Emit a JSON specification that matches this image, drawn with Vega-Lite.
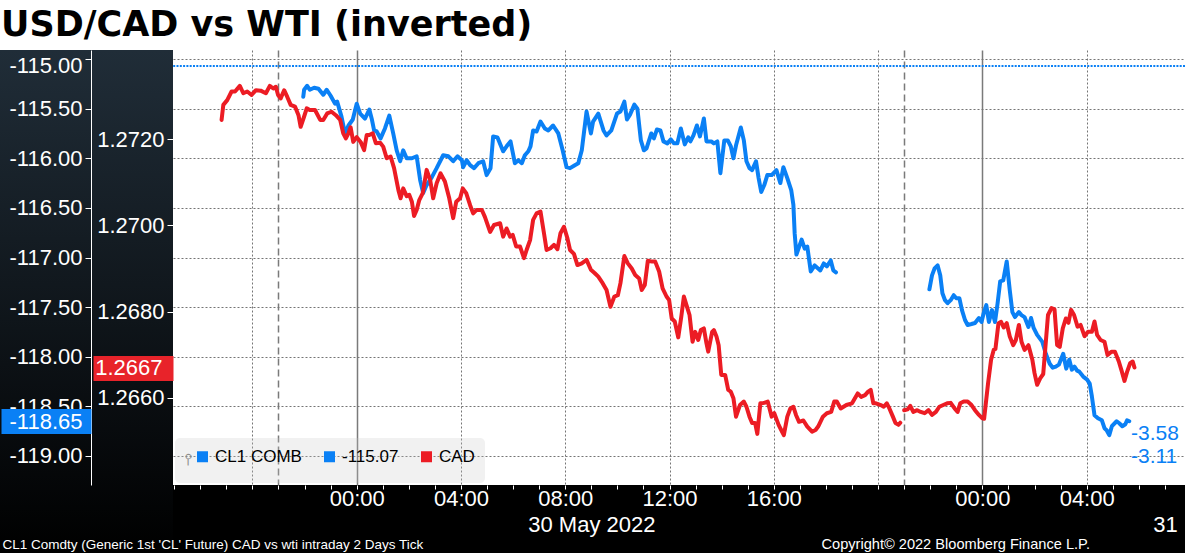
{
"$schema": "https://vega.github.io/schema/vega-lite/v6.json",
"width": 1012, "height": 435,
"autosize": "none",
"padding": {"left": 173, "top": 50, "right": 0, "bottom": 68},
"background": "white",
"config": {"view": {"stroke": null, "fill": "white"}},
"title": {"text": "USD/CAD vs WTI (inverted)", "anchor": "start", "frame": "group", "dx": -172, "dy": 34, "offset": 13, "baseline": "alphabetic", "font": "DejaVu Sans", "fontWeight": "bold", "fontSize": 35, "color": "black"},
"datasets": {
"wti1": [
{"t":"2022-05-29 21:57","v":-115.38},{"t":"2022-05-29 21:59","v":-115.31},{"t":"2022-05-29 22:06","v":-115.27},{"t":"2022-05-29 22:12","v":-115.31},{"t":"2022-05-29 22:22","v":-115.29},{"t":"2022-05-29 22:32","v":-115.30},{"t":"2022-05-29 22:43","v":-115.36},{"t":"2022-05-29 22:51","v":-115.31},{"t":"2022-05-29 23:00","v":-115.37},{"t":"2022-05-29 23:10","v":-115.45},{"t":"2022-05-29 23:15","v":-115.43},{"t":"2022-05-29 23:25","v":-115.58},{"t":"2022-05-29 23:33","v":-115.75},{"t":"2022-05-29 23:41","v":-115.67},{"t":"2022-05-29 23:51","v":-115.61},
{"t":"2022-05-30 00:00","v":-115.45},{"t":"2022-05-30 00:08","v":-115.55},{"t":"2022-05-30 00:19","v":-115.60},{"t":"2022-05-30 00:29","v":-115.51},{"t":"2022-05-30 00:35","v":-115.61},{"t":"2022-05-30 00:40","v":-115.72},{"t":"2022-05-30 00:46","v":-115.73},{"t":"2022-05-30 00:55","v":-115.80},{"t":"2022-05-30 01:05","v":-115.70},{"t":"2022-05-30 01:15","v":-115.57},{"t":"2022-05-30 01:24","v":-115.75},{"t":"2022-05-30 01:32","v":-115.92},{"t":"2022-05-30 01:40","v":-116.03},{"t":"2022-05-30 01:47","v":-115.92},{"t":"2022-05-30 01:55","v":-116.00},{"t":"2022-05-30 02:07","v":-116.00},{"t":"2022-05-30 02:18","v":-115.98},{"t":"2022-05-30 02:26","v":-116.22},{"t":"2022-05-30 02:33","v":-116.35},{"t":"2022-05-30 02:41","v":-116.27},{"t":"2022-05-30 02:53","v":-116.19},{"t":"2022-05-30 03:04","v":-116.10},{"t":"2022-05-30 03:19","v":-115.97},{"t":"2022-05-30 03:31","v":-115.98},{"t":"2022-05-30 03:42","v":-116.03},{"t":"2022-05-30 03:52","v":-115.98},{"t":"2022-05-30 04:02","v":-116.02},{"t":"2022-05-30 04:05","v":-116.09},{"t":"2022-05-30 04:13","v":-116.02},{"t":"2022-05-30 04:21","v":-116.07},{"t":"2022-05-30 04:30","v":-116.10},{"t":"2022-05-30 04:40","v":-116.05},{"t":"2022-05-30 04:51","v":-116.03},{"t":"2022-05-30 04:59","v":-116.17},{"t":"2022-05-30 05:08","v":-116.10},{"t":"2022-05-30 05:14","v":-115.78},{"t":"2022-05-30 05:24","v":-115.79},{"t":"2022-05-30 05:37","v":-115.93},{"t":"2022-05-30 05:45","v":-115.88},{"t":"2022-05-30 05:54","v":-115.83},{"t":"2022-05-30 06:04","v":-116.05},{"t":"2022-05-30 06:12","v":-116.02},{"t":"2022-05-30 06:20","v":-116.05},{"t":"2022-05-30 06:27","v":-115.97},{"t":"2022-05-30 06:35","v":-115.93},{"t":"2022-05-30 06:40","v":-115.88},{"t":"2022-05-30 06:46","v":-115.72},{"t":"2022-05-30 06:54","v":-115.73},{"t":"2022-05-30 07:03","v":-115.63},{"t":"2022-05-30 07:13","v":-115.70},{"t":"2022-05-30 07:21","v":-115.72},{"t":"2022-05-30 07:32","v":-115.67},{"t":"2022-05-30 07:44","v":-115.75},{"t":"2022-05-30 07:54","v":-115.92},{"t":"2022-05-30 08:03","v":-116.09},{"t":"2022-05-30 08:11","v":-116.10},{"t":"2022-05-30 08:22","v":-116.07},{"t":"2022-05-30 08:30","v":-116.05},{"t":"2022-05-30 08:38","v":-115.92},{"t":"2022-05-30 08:49","v":-115.53},{"t":"2022-05-30 08:59","v":-115.75},{"t":"2022-05-30 09:04","v":-115.63},{"t":"2022-05-30 09:16","v":-115.55},{"t":"2022-05-30 09:28","v":-115.72},{"t":"2022-05-30 09:35","v":-115.77},{"t":"2022-05-30 09:46","v":-115.72},{"t":"2022-05-30 09:59","v":-115.55},{"t":"2022-05-30 10:07","v":-115.53},{"t":"2022-05-30 10:16","v":-115.43},{"t":"2022-05-30 10:22","v":-115.61},{"t":"2022-05-30 10:29","v":-115.56},{"t":"2022-05-30 10:39","v":-115.46},{"t":"2022-05-30 10:46","v":-115.50},{"t":"2022-05-30 10:54","v":-115.82},{"t":"2022-05-30 11:01","v":-115.92},{"t":"2022-05-30 11:07","v":-115.90},{"t":"2022-05-30 11:18","v":-115.75},{"t":"2022-05-30 11:24","v":-115.80},{"t":"2022-05-30 11:31","v":-115.71},{"t":"2022-05-30 11:39","v":-115.72},{"t":"2022-05-30 11:46","v":-115.83},{"t":"2022-05-30 11:55","v":-115.85},{"t":"2022-05-30 12:03","v":-115.81},{"t":"2022-05-30 12:10","v":-115.85},{"t":"2022-05-30 12:18","v":-115.85},{"t":"2022-05-30 12:26","v":-115.70},{"t":"2022-05-30 12:35","v":-115.86},{"t":"2022-05-30 12:43","v":-115.79},{"t":"2022-05-30 12:48","v":-115.83},{"t":"2022-05-30 12:55","v":-115.77},{"t":"2022-05-30 13:03","v":-115.67},{"t":"2022-05-30 13:10","v":-115.78},{"t":"2022-05-30 13:19","v":-115.60},{"t":"2022-05-30 13:25","v":-115.83},{"t":"2022-05-30 13:36","v":-115.83},{"t":"2022-05-30 13:42","v":-115.85},{"t":"2022-05-30 13:50","v":-115.83},{"t":"2022-05-30 13:57","v":-116.15},{"t":"2022-05-30 14:06","v":-115.82},{"t":"2022-05-30 14:14","v":-115.82},{"t":"2022-05-30 14:21","v":-115.88},{"t":"2022-05-30 14:27","v":-116.00},{"t":"2022-05-30 14:33","v":-115.87},{"t":"2022-05-30 14:44","v":-115.69},{"t":"2022-05-30 14:51","v":-115.82},{"t":"2022-05-30 14:57","v":-116.03},{"t":"2022-05-30 15:04","v":-116.10},{"t":"2022-05-30 15:10","v":-116.12},{"t":"2022-05-30 15:19","v":-116.03},{"t":"2022-05-30 15:25","v":-116.20},{"t":"2022-05-30 15:31","v":-116.34},{"t":"2022-05-30 15:38","v":-116.27},{"t":"2022-05-30 15:45","v":-116.17},{"t":"2022-05-30 15:55","v":-116.17},{"t":"2022-05-30 16:06","v":-116.12},{"t":"2022-05-30 16:15","v":-116.25},{"t":"2022-05-30 16:22","v":-116.09},{"t":"2022-05-30 16:31","v":-116.20},{"t":"2022-05-30 16:40","v":-116.32},{"t":"2022-05-30 16:45","v":-116.47},{"t":"2022-05-30 16:48","v":-116.76},{"t":"2022-05-30 16:52","v":-116.97},{"t":"2022-05-30 17:04","v":-116.82},{"t":"2022-05-30 17:11","v":-116.91},{"t":"2022-05-30 17:17","v":-116.89},{"t":"2022-05-30 17:25","v":-117.14},{"t":"2022-05-30 17:34","v":-117.08},{"t":"2022-05-30 17:47","v":-117.13},{"t":"2022-05-30 17:55","v":-117.06},{"t":"2022-05-30 18:02","v":-117.09},{"t":"2022-05-30 18:11","v":-117.03},{"t":"2022-05-30 18:17","v":-117.13},{"t":"2022-05-30 18:23","v":-117.15}
],
"wti2": [
{"t":"2022-05-30 21:58","v":-117.32},{"t":"2022-05-30 22:04","v":-117.18},{"t":"2022-05-30 22:10","v":-117.11},{"t":"2022-05-30 22:17","v":-117.08},{"t":"2022-05-30 22:23","v":-117.18},{"t":"2022-05-30 22:28","v":-117.36},{"t":"2022-05-30 22:34","v":-117.43},{"t":"2022-05-30 22:40","v":-117.46},{"t":"2022-05-30 22:47","v":-117.43},{"t":"2022-05-30 22:54","v":-117.38},{"t":"2022-05-30 23:00","v":-117.41},{"t":"2022-05-30 23:07","v":-117.41},{"t":"2022-05-30 23:13","v":-117.53},{"t":"2022-05-30 23:20","v":-117.63},{"t":"2022-05-30 23:26","v":-117.68},{"t":"2022-05-30 23:35","v":-117.67},{"t":"2022-05-30 23:43","v":-117.66},{"t":"2022-05-30 23:52","v":-117.61},{"t":"2022-05-30 23:58","v":-117.65},
{"t":"2022-05-31 00:03","v":-117.56},{"t":"2022-05-31 00:09","v":-117.48},{"t":"2022-05-31 00:15","v":-117.65},{"t":"2022-05-31 00:22","v":-117.53},{"t":"2022-05-31 00:29","v":-117.65},{"t":"2022-05-31 00:35","v":-117.46},{"t":"2022-05-31 00:41","v":-117.24},{"t":"2022-05-31 00:48","v":-117.23},{"t":"2022-05-31 00:56","v":-117.04},{"t":"2022-05-31 01:03","v":-117.33},{"t":"2022-05-31 01:09","v":-117.55},{"t":"2022-05-31 01:15","v":-117.60},{"t":"2022-05-31 01:24","v":-117.55},{"t":"2022-05-31 01:30","v":-117.58},{"t":"2022-05-31 01:37","v":-117.60},{"t":"2022-05-31 01:46","v":-117.70},{"t":"2022-05-31 01:52","v":-117.61},{"t":"2022-05-31 01:58","v":-117.71},{"t":"2022-05-31 02:06","v":-117.78},{"t":"2022-05-31 02:18","v":-117.85},{"t":"2022-05-31 02:26","v":-117.97},{"t":"2022-05-31 02:35","v":-118.07},{"t":"2022-05-31 02:42","v":-118.11},{"t":"2022-05-31 02:49","v":-118.10},{"t":"2022-05-31 02:56","v":-118.08},{"t":"2022-05-31 03:06","v":-117.97},{"t":"2022-05-31 03:13","v":-118.12},{"t":"2022-05-31 03:20","v":-118.03},{"t":"2022-05-31 03:26","v":-118.13},{"t":"2022-05-31 03:32","v":-118.10},{"t":"2022-05-31 03:38","v":-118.14},{"t":"2022-05-31 03:43","v":-118.15},{"t":"2022-05-31 03:52","v":-118.20},{"t":"2022-05-31 04:01","v":-118.23},{"t":"2022-05-31 04:07","v":-118.27},{"t":"2022-05-31 04:12","v":-118.40},{"t":"2022-05-31 04:18","v":-118.59},{"t":"2022-05-31 04:26","v":-118.62},{"t":"2022-05-31 04:35","v":-118.64},{"t":"2022-05-31 04:41","v":-118.72},{"t":"2022-05-31 04:46","v":-118.74},{"t":"2022-05-31 04:52","v":-118.79},{"t":"2022-05-31 04:58","v":-118.70},{"t":"2022-05-31 05:09","v":-118.65},{"t":"2022-05-31 05:15","v":-118.67},{"t":"2022-05-31 05:22","v":-118.70},{"t":"2022-05-31 05:29","v":-118.68},{"t":"2022-05-31 05:33","v":-118.64},{"t":"2022-05-31 05:38","v":-118.65}
],
"cad1": [
{"t":"2022-05-29 18:49","v":1.27245},{"t":"2022-05-29 18:53","v":1.27280},{"t":"2022-05-29 19:02","v":1.27291},{"t":"2022-05-29 19:12","v":1.27311},{"t":"2022-05-29 19:20","v":1.27311},{"t":"2022-05-29 19:31","v":1.27324},{"t":"2022-05-29 19:39","v":1.27307},{"t":"2022-05-29 19:48","v":1.27311},{"t":"2022-05-29 19:58","v":1.27303},{"t":"2022-05-29 20:08","v":1.27314},{"t":"2022-05-29 20:19","v":1.27313},{"t":"2022-05-29 20:31","v":1.27307},{"t":"2022-05-29 20:40","v":1.27324},{"t":"2022-05-29 20:48","v":1.27318},{"t":"2022-05-29 20:54","v":1.27322},{"t":"2022-05-29 20:59","v":1.27303},{"t":"2022-05-29 21:05","v":1.27295},{"t":"2022-05-29 21:13","v":1.27314},{"t":"2022-05-29 21:20","v":1.27299},{"t":"2022-05-29 21:28","v":1.27280},{"t":"2022-05-29 21:38","v":1.27276},{"t":"2022-05-29 21:46","v":1.27256},{"t":"2022-05-29 21:51","v":1.27229},{"t":"2022-05-29 21:59","v":1.27253},{"t":"2022-05-29 22:05","v":1.27272},{"t":"2022-05-29 22:12","v":1.27268},{"t":"2022-05-29 22:24","v":1.27268},{"t":"2022-05-29 22:36","v":1.27245},{"t":"2022-05-29 22:43","v":1.27245},{"t":"2022-05-29 22:52","v":1.27260},{"t":"2022-05-29 23:02","v":1.27264},{"t":"2022-05-29 23:12","v":1.27256},{"t":"2022-05-29 23:22","v":1.27245},{"t":"2022-05-29 23:29","v":1.27214},{"t":"2022-05-29 23:35","v":1.27202},{"t":"2022-05-29 23:41","v":1.27214},{"t":"2022-05-29 23:46","v":1.27228},{"t":"2022-05-29 23:52","v":1.27194},
{"t":"2022-05-30 00:00","v":1.27205},{"t":"2022-05-30 00:09","v":1.27194},{"t":"2022-05-30 00:17","v":1.27175},{"t":"2022-05-30 00:23","v":1.27210},{"t":"2022-05-30 00:29","v":1.27210},{"t":"2022-05-30 00:37","v":1.27214},{"t":"2022-05-30 00:44","v":1.27191},{"t":"2022-05-30 00:54","v":1.27192},{"t":"2022-05-30 01:01","v":1.27183},{"t":"2022-05-30 01:09","v":1.27156},{"t":"2022-05-30 01:18","v":1.27160},{"t":"2022-05-30 01:26","v":1.27133},{"t":"2022-05-30 01:36","v":1.27082},{"t":"2022-05-30 01:41","v":1.27063},{"t":"2022-05-30 01:47","v":1.27086},{"t":"2022-05-30 01:55","v":1.27068},{"t":"2022-05-30 02:01","v":1.27071},{"t":"2022-05-30 02:07","v":1.27055},{"t":"2022-05-30 02:12","v":1.27022},{"t":"2022-05-30 02:18","v":1.27036},{"t":"2022-05-30 02:24","v":1.27059},{"t":"2022-05-30 02:32","v":1.27075},{"t":"2022-05-30 02:41","v":1.27129},{"t":"2022-05-30 02:49","v":1.27106},{"t":"2022-05-30 02:56","v":1.27063},{"t":"2022-05-30 03:04","v":1.27098},{"t":"2022-05-30 03:13","v":1.27121},{"t":"2022-05-30 03:23","v":1.27102},{"t":"2022-05-30 03:33","v":1.27063},{"t":"2022-05-30 03:42","v":1.27017},{"t":"2022-05-30 03:49","v":1.27055},{"t":"2022-05-30 03:58","v":1.27063},{"t":"2022-05-30 04:04","v":1.27086},{"t":"2022-05-30 04:12","v":1.27075},{"t":"2022-05-30 04:21","v":1.27047},{"t":"2022-05-30 04:28","v":1.27028},{"t":"2022-05-30 04:36","v":1.27036},{"t":"2022-05-30 04:48","v":1.27036},{"t":"2022-05-30 04:55","v":1.27020},{"t":"2022-05-30 05:07","v":1.26985},{"t":"2022-05-30 05:16","v":1.27001},{"t":"2022-05-30 05:30","v":1.27005},{"t":"2022-05-30 05:37","v":1.26974},{"t":"2022-05-30 05:45","v":1.26993},{"t":"2022-05-30 05:53","v":1.26974},{"t":"2022-05-30 05:59","v":1.26978},{"t":"2022-05-30 06:07","v":1.26951},{"t":"2022-05-30 06:16","v":1.26951},{"t":"2022-05-30 06:25","v":1.26924},{"t":"2022-05-30 06:31","v":1.26943},{"t":"2022-05-30 06:39","v":1.26966},{"t":"2022-05-30 06:46","v":1.27013},{"t":"2022-05-30 06:54","v":1.27028},{"t":"2022-05-30 07:03","v":1.27032},{"t":"2022-05-30 07:11","v":1.26982},{"t":"2022-05-30 07:17","v":1.26943},{"t":"2022-05-30 07:26","v":1.26947},{"t":"2022-05-30 07:34","v":1.26955},{"t":"2022-05-30 07:42","v":1.26945},{"t":"2022-05-30 07:49","v":1.26982},{"t":"2022-05-30 07:57","v":1.26997},{"t":"2022-05-30 08:05","v":1.26970},{"t":"2022-05-30 08:11","v":1.26943},{"t":"2022-05-30 08:20","v":1.26934},{"t":"2022-05-30 08:28","v":1.26908},{"t":"2022-05-30 08:38","v":1.26912},{"t":"2022-05-30 08:49","v":1.26920},{"t":"2022-05-30 08:59","v":1.26897},{"t":"2022-05-30 09:08","v":1.26889},{"t":"2022-05-30 09:16","v":1.26881},{"t":"2022-05-30 09:26","v":1.26866},{"t":"2022-05-30 09:35","v":1.26850},{"t":"2022-05-30 09:44","v":1.26811},{"t":"2022-05-30 09:53","v":1.26835},{"t":"2022-05-30 10:01","v":1.26838},{"t":"2022-05-30 10:07","v":1.26866},{"t":"2022-05-30 10:16","v":1.26929},{"t":"2022-05-30 10:24","v":1.26912},{"t":"2022-05-30 10:33","v":1.26900},{"t":"2022-05-30 10:41","v":1.26885},{"t":"2022-05-30 10:50","v":1.26877},{"t":"2022-05-30 10:56","v":1.26850},{"t":"2022-05-30 11:03","v":1.26862},{"t":"2022-05-30 11:10","v":1.26918},{"t":"2022-05-30 11:20","v":1.26916},{"t":"2022-05-30 11:27","v":1.26916},{"t":"2022-05-30 11:36","v":1.26893},{"t":"2022-05-30 11:44","v":1.26854},{"t":"2022-05-30 11:53","v":1.26835},{"t":"2022-05-30 11:59","v":1.26827},{"t":"2022-05-30 12:05","v":1.26784},{"t":"2022-05-30 12:12","v":1.26777},{"t":"2022-05-30 12:20","v":1.26740},{"t":"2022-05-30 12:27","v":1.26788},{"t":"2022-05-30 12:33","v":1.26835},{"t":"2022-05-30 12:39","v":1.26815},{"t":"2022-05-30 12:46","v":1.26792},{"t":"2022-05-30 12:53","v":1.26730},{"t":"2022-05-30 12:59","v":1.26753},{"t":"2022-05-30 13:06","v":1.26734},{"t":"2022-05-30 13:12","v":1.26757},{"t":"2022-05-30 13:19","v":1.26761},{"t":"2022-05-30 13:25","v":1.26726},{"t":"2022-05-30 13:29","v":1.26707},{"t":"2022-05-30 13:38","v":1.26753},{"t":"2022-05-30 13:42","v":1.26757},{"t":"2022-05-30 13:48","v":1.26742},{"t":"2022-05-30 13:53","v":1.26722},{"t":"2022-05-30 13:59","v":1.26653},{"t":"2022-05-30 14:08","v":1.26653},{"t":"2022-05-30 14:15","v":1.26618},{"t":"2022-05-30 14:21","v":1.26614},{"t":"2022-05-30 14:27","v":1.26599},{"t":"2022-05-30 14:33","v":1.26556},{"t":"2022-05-30 14:42","v":1.26583},{"t":"2022-05-30 14:51","v":1.26591},{"t":"2022-05-30 14:57","v":1.26579},{"t":"2022-05-30 15:04","v":1.26556},{"t":"2022-05-30 15:10","v":1.26541},{"t":"2022-05-30 15:17","v":1.26541},{"t":"2022-05-30 15:22","v":1.26516},{"t":"2022-05-30 15:29","v":1.26587},{"t":"2022-05-30 15:38","v":1.26588},{"t":"2022-05-30 15:46","v":1.26591},{"t":"2022-05-30 15:55","v":1.26556},{"t":"2022-05-30 16:01","v":1.26564},{"t":"2022-05-30 16:11","v":1.26537},{"t":"2022-05-30 16:17","v":1.26525},{"t":"2022-05-30 16:23","v":1.26513},{"t":"2022-05-30 16:31","v":1.26556},{"t":"2022-05-30 16:38","v":1.26575},{"t":"2022-05-30 16:45","v":1.26579},{"t":"2022-05-30 16:51","v":1.26560},{"t":"2022-05-30 16:58","v":1.26544},{"t":"2022-05-30 17:08","v":1.26547},{"t":"2022-05-30 17:17","v":1.26533},{"t":"2022-05-30 17:28","v":1.26521},{"t":"2022-05-30 17:36","v":1.26525},{"t":"2022-05-30 17:42","v":1.26533},{"t":"2022-05-30 17:53","v":1.26556},{"t":"2022-05-30 18:02","v":1.26564},{"t":"2022-05-30 18:12","v":1.26567},{"t":"2022-05-30 18:19","v":1.26591},{"t":"2022-05-30 18:25","v":1.26591},{"t":"2022-05-30 18:34","v":1.26575},{"t":"2022-05-30 18:47","v":1.26583},{"t":"2022-05-30 19:00","v":1.26587},{"t":"2022-05-30 19:13","v":1.26610},{"t":"2022-05-30 19:21","v":1.26602},{"t":"2022-05-30 19:30","v":1.26606},{"t":"2022-05-30 19:37","v":1.26614},{"t":"2022-05-30 19:43","v":1.26618},{"t":"2022-05-30 19:49","v":1.26587},{"t":"2022-05-30 19:55","v":1.26587},{"t":"2022-05-30 20:06","v":1.26583},{"t":"2022-05-30 20:13","v":1.26579},{"t":"2022-05-30 20:20","v":1.26587},{"t":"2022-05-30 20:26","v":1.26575},{"t":"2022-05-30 20:34","v":1.26556},{"t":"2022-05-30 20:40","v":1.26541},{"t":"2022-05-30 20:47","v":1.26537},{"t":"2022-05-30 20:51","v":1.26542}
],
"cad2": [
{"t":"2022-05-30 21:00","v":1.26571},{"t":"2022-05-30 21:08","v":1.26573},{"t":"2022-05-30 21:14","v":1.26581},{"t":"2022-05-30 21:21","v":1.26567},{"t":"2022-05-30 21:30","v":1.26571},{"t":"2022-05-30 21:38","v":1.26567},{"t":"2022-05-30 21:47","v":1.26564},{"t":"2022-05-30 21:56","v":1.26571},{"t":"2022-05-30 22:04","v":1.26560},{"t":"2022-05-30 22:13","v":1.26567},{"t":"2022-05-30 22:21","v":1.26579},{"t":"2022-05-30 22:30","v":1.26583},{"t":"2022-05-30 22:39","v":1.26587},{"t":"2022-05-30 22:47","v":1.26588},{"t":"2022-05-30 22:56","v":1.26575},{"t":"2022-05-30 23:03","v":1.26567},{"t":"2022-05-30 23:09","v":1.26587},{"t":"2022-05-30 23:17","v":1.26591},{"t":"2022-05-30 23:26","v":1.26591},{"t":"2022-05-30 23:35","v":1.26583},{"t":"2022-05-30 23:43","v":1.26571},{"t":"2022-05-30 23:52","v":1.26560},
{"t":"2022-05-31 00:00","v":1.26552},{"t":"2022-05-31 00:04","v":1.26551},{"t":"2022-05-31 00:13","v":1.26633},{"t":"2022-05-31 00:20","v":1.26688},{"t":"2022-05-31 00:26","v":1.26711},{"t":"2022-05-31 00:30","v":1.26713},{"t":"2022-05-31 00:37","v":1.26773},{"t":"2022-05-31 00:43","v":1.26776},{"t":"2022-05-31 00:49","v":1.26763},{"t":"2022-05-31 00:56","v":1.26773},{"t":"2022-05-31 01:03","v":1.26742},{"t":"2022-05-31 01:11","v":1.26722},{"t":"2022-05-31 01:17","v":1.26734},{"t":"2022-05-31 01:24","v":1.26769},{"t":"2022-05-31 01:30","v":1.26730},{"t":"2022-05-31 01:37","v":1.26711},{"t":"2022-05-31 01:46","v":1.26722},{"t":"2022-05-31 01:55","v":1.26688},{"t":"2022-05-31 02:00","v":1.26657},{"t":"2022-05-31 02:06","v":1.26630},{"t":"2022-05-31 02:13","v":1.26645},{"t":"2022-05-31 02:20","v":1.26655},{"t":"2022-05-31 02:26","v":1.26730},{"t":"2022-05-31 02:31","v":1.26792},{"t":"2022-05-31 02:39","v":1.26808},{"t":"2022-05-31 02:46","v":1.26805},{"t":"2022-05-31 02:52","v":1.26722},{"t":"2022-05-31 02:58","v":1.26718},{"t":"2022-05-31 03:05","v":1.26761},{"t":"2022-05-31 03:12","v":1.26784},{"t":"2022-05-31 03:18","v":1.26774},{"t":"2022-05-31 03:24","v":1.26804},{"t":"2022-05-31 03:31","v":1.26792},{"t":"2022-05-31 03:39","v":1.26765},{"t":"2022-05-31 03:46","v":1.26769},{"t":"2022-05-31 03:55","v":1.26743},{"t":"2022-05-31 04:03","v":1.26753},{"t":"2022-05-31 04:12","v":1.26753},{"t":"2022-05-31 04:18","v":1.26777},{"t":"2022-05-31 04:24","v":1.26746},{"t":"2022-05-31 04:32","v":1.26734},{"t":"2022-05-31 04:41","v":1.26730},{"t":"2022-05-31 04:48","v":1.26699},{"t":"2022-05-31 04:57","v":1.26707},{"t":"2022-05-31 05:05","v":1.26707},{"t":"2022-05-31 05:14","v":1.26684},{"t":"2022-05-31 05:20","v":1.26664},{"t":"2022-05-31 05:27","v":1.26639},{"t":"2022-05-31 05:33","v":1.26660},{"t":"2022-05-31 05:40","v":1.26680},{"t":"2022-05-31 05:46","v":1.26684},{"t":"2022-05-31 05:50","v":1.26670}
],
"wtiLast": [{"t":"2022-05-31 05:38","v":-118.65}],
"ref": [{"v":-115.07}],
"notes": [{"label":"-3.58","t":"2022-05-31 05:42","v":-118.783},{"label":"-3.11","t":"2022-05-31 05:42","v":-119.007}]
},
"layer": [
{
 "data": {"values": [{}]},
 "mark": {"type": "rect", "fill": {"gradient": "linear", "x1": 0, "y1": 0, "x2": 0, "y2": 1, "stops": [{"offset": 0, "color": "#202d38"}, {"offset": 1, "color": "#000000"}]}},
 "encoding": {
  "x": {"datum": 1653811200000, "type": "temporal",
   "scale": {"type": "utc", "nice": false, "domain": [1653843432000, 1653983178000]},
   "axis": {"orient": "bottom", "values": [1653854400000, 1653883200000, 1653897600000, 1653912000000, 1653926400000, 1653940800000, 1653969600000], "grid": true, "gridColor": "#757575", "gridDash": [2, 2], "gridWidth": 1, "labels": false, "ticks": false, "domain": false, "title": null, "zindex": 0}},
  "x2": {"datum": 1653843432000},
  "y": {"datum": -114.9093, "type": "quantitative", "scale": {"domain": [-119.2922, -114.9093], "nice": false, "zero": false},
   "axis": {"orient": "left", "values": [-115, -115.5, -116, -116.5, -117, -117.5, -118, -118.5, -119], "grid": true, "gridColor": "#757575", "gridDash": [2, 2], "gridWidth": 1, "labels": false, "ticks": false, "domain": false, "title": null, "zindex": 0}},
  "y2": {"datum": -119.98}
 }
},
{
 "data": {"values": [{}]},
 "mark": {"type": "rect", "fill": "black"},
 "encoding": {
  "x": {"datum": 1653843432000, "type": "temporal",
   "scale": {"type": "utc", "nice": false, "domain": [1653843432000, 1653983178000]},
   "axis": {"orient": "bottom", "values": [1653868800000, 1653955200000], "grid": true, "gridColor": "#7a7a7a", "gridWidth": 1.5, "labels": false, "ticks": false, "domain": false, "title": null, "zindex": 0}},
  "x2": {"datum": 1654084800000},
  "y": {"datum": -119.2922, "type": "quantitative", "scale": {"domain": [-119.2922, -114.9093], "nice": false, "zero": false},
   "axis": {"orient": "left", "offset": 82, "values": [-115], "labelExpr": "replace(format(datum.value, '.2f'), '−', '-')", "labelColor": "white", "labelFont": "Liberation Sans", "labelFontSize": 22, "labelPadding": 3, "labelBaseline": "middle", "labelOffset": 6, "labelOverlap": false, "labelFlush": false,
    "tickColor": "white", "tickSize": 6, "tickWidth": 1, "domain": false, "grid": false, "title": null, "zindex": 1}},
  "y2": {"datum": -119.98}
 }
},
{
 "data": {"name": "wti1", "format": {"parse": {"t": "utc:'%Y-%m-%d %H:%M'"}}},
 "mark": {"type": "line", "strokeWidth": 4, "strokeJoin": "round", "strokeCap": "round"},
 "encoding": {
  "x": {"field": "t", "type": "temporal",
   "scale": {"type": "utc", "nice": false, "domain": [1653843432000, 1653983178000]},
   "axis": {"orient": "bottom", "values": [1653843600000,1653847200000,1653850800000,1653854400000,1653858000000,1653861600000,1653865200000,1653868800000,1653872400000,1653876000000,1653879600000,1653883200000,1653886800000,1653890400000,1653894000000,1653897600000,1653901200000,1653904800000,1653908400000,1653912000000,1653915600000,1653919200000,1653922800000,1653926400000,1653930000000,1653933600000,1653937200000,1653940800000,1653944400000,1653948000000,1653951600000,1653955200000,1653958800000,1653962400000,1653966000000,1653969600000,1653973200000,1653976800000,1653980400000],
    "grid": false, "domain": false, "ticks": true, "tickColor": "white", "tickWidth": 1, "tickSize": 4,
    "labelExpr": "utchours(datum.value) % 4 == 0 && utchours(datum.value) != 20 ? utcFormat(datum.value, '%H:%M') : ''",
    "labelColor": "white", "labelFont": "Liberation Sans", "labelFontSize": 22, "labelPadding": -1, "labelBaseline": "top", "labelOverlap": false, "labelFlush": false,
    "title": "CL1 Comdty (Generic 1st 'CL' Future) CAD vs wti intraday 2 Days  Tick", "titleFont": "Liberation Sans", "titleFontSize": 13.5, "titleFontWeight": "normal", "titleColor": "white", "titleAnchor": "start", "titleAlign": "left", "titleBaseline": "alphabetic", "titleX": -171, "titleY": 63, "zindex": 1}},
  "y": {"field": "v", "type": "quantitative", "scale": {"domain": [-119.2922, -114.9093], "nice": false, "zero": false},
   "axis": {"orient": "left", "offset": 82, "values": [-115.5, -116, -116.5, -117, -117.5, -118, -118.5, -119], "labelExpr": "replace(format(datum.value, '.2f'), '−', '-')", "labelColor": "white", "labelFont": "Liberation Sans", "labelFontSize": 22, "labelPadding": 3, "labelBaseline": "middle", "labelOverlap": false, "labelFlush": false,
    "tickColor": "white", "tickSize": 6, "tickWidth": 1, "domain": true, "domainColor": "white", "domainWidth": 1, "grid": false, "title": null, "zindex": 1}},
  "color": {"datum": "CL1 COMB", "type": "nominal",
   "scale": {"domain": ["CL1 COMB", "-115.07", "CAD"], "range": ["#0a80f5", "#0a80f5", "#ec1c24"]},
   "legend": {"title": "⫯", "titleOrient": "left", "titleColor": "#8a8a8a", "titleFont": "DejaVu Sans", "titleFontSize": 16, "titleFontWeight": "normal", "titlePadding": 2,
    "orient": "bottom-left", "direction": "horizontal", "offset": 2, "padding": 10, "fillColor": "rgba(200,200,200,0.25)", "cornerRadius": 5,
    "symbolType": "square", "symbolSize": 16, "symbolStrokeWidth": 7, "symbolOpacity": 1,
    "labelFont": "Liberation Sans", "labelFontSize": 17, "labelColor": "black", "labelOffset": 4, "columnPadding": 11}}
 }
},
{
 "data": {"name": "wti2", "format": {"parse": {"t": "utc:'%Y-%m-%d %H:%M'"}}},
 "mark": {"type": "line", "strokeWidth": 4, "strokeJoin": "round", "strokeCap": "round"},
 "encoding": {
  "x": {"field": "t", "type": "temporal", "scale": {"type": "utc", "nice": false, "domain": [1653843432000, 1653983178000]}, "axis": null},
  "y": {"field": "v", "type": "quantitative", "scale": {"domain": [-119.2922, -114.9093], "nice": false, "zero": false},
   "axis": {"orient": "left", "offset": 82, "values": [-118.65], "labelExpr": "replace(format(datum.value, '.2f'), '−', '-')", "labelColor": "white", "labelFont": "Liberation Sans", "labelFontSize": 22, "labelPadding": -81, "labelBaseline": "middle", "labelOverlap": false, "labelFlush": false,
    "tickColor": "#0a80f5", "tickSize": 90, "tickWidth": 25, "domain": false, "grid": false, "title": null, "zindex": 1}},
  "color": {"datum": "CL1 COMB", "type": "nominal"}
 }
},
{
 "data": {"name": "wtiLast", "format": {"parse": {"t": "utc:'%Y-%m-%d %H:%M'"}}},
 "mark": {"type": "rule", "strokeWidth": 1.5, "color": "#0a80f5"},
 "encoding": {
  "x": {"field": "t", "type": "temporal", "scale": {"type": "utc", "nice": false, "domain": [1653843432000, 1653983178000]},
   "axis": {"orient": "bottom", "values": [1653858000000, 1653944400000], "grid": true, "gridColor": "#7a7a7a", "gridDash": [7, 4], "gridWidth": 1.5, "labels": false, "ticks": true, "tickColor": "white", "tickSize": 68, "tickWidth": 1, "domain": false, "title": null, "zindex": 0}},
  "x2": {"datum": 1653983178000},
  "y": {"field": "v", "type": "quantitative", "scale": {"domain": [-119.2922, -114.9093], "nice": false, "zero": false}, "axis": null}
 }
},
{
 "data": {"name": "wtiLast", "format": {"parse": {"t": "utc:'%Y-%m-%d %H:%M'"}}},
 "mark": {"type": "circle", "size": 45, "opacity": 1, "color": "#0a80f5"},
 "encoding": {
  "x": {"field": "t", "type": "temporal", "scale": {"type": "utc", "nice": false, "domain": [1653843432000, 1653983178000]}, "axis": null},
  "y": {"field": "v", "type": "quantitative", "scale": {"domain": [-119.2922, -114.9093], "nice": false, "zero": false}, "axis": null}
 }
},
{
 "data": {"name": "cad1", "format": {"parse": {"t": "utc:'%Y-%m-%d %H:%M'"}}},
 "mark": {"type": "line", "strokeWidth": 4, "strokeJoin": "round", "strokeCap": "round"},
 "encoding": {
  "x": {"field": "t", "type": "temporal", "scale": {"type": "utc", "nice": false, "domain": [1653843432000, 1653983178000]}, "axis": null},
  "y": {"field": "v", "type": "quantitative", "scale": {"domain": [1.263973, 1.274074], "nice": false, "zero": false},
   "axis": {"orient": "left", "offset": 0, "values": [1.266, 1.268, 1.27, 1.272], "format": ".4f", "labelColor": "white", "labelFont": "Liberation Sans", "labelFontSize": 22, "labelPadding": 3, "labelBaseline": "middle", "labelOverlap": false, "labelFlush": false,
    "tickColor": "white", "tickSize": 6, "tickWidth": 1, "domain": false, "grid": false, "title": null, "zindex": 1}},
  "color": {"datum": "CAD", "type": "nominal"}
 }
},
{
 "data": {"name": "cad2", "format": {"parse": {"t": "utc:'%Y-%m-%d %H:%M'"}}},
 "mark": {"type": "line", "strokeWidth": 4, "strokeJoin": "round", "strokeCap": "round"},
 "encoding": {
  "x": {"field": "t", "type": "temporal", "scale": {"type": "utc", "nice": false, "domain": [1653843432000, 1653983178000]}, "axis": null},
  "y": {"field": "v", "type": "quantitative", "scale": {"domain": [1.263973, 1.274074], "nice": false, "zero": false},
   "axis": {"orient": "left", "offset": 0, "values": [1.2667], "format": ".4f", "labelColor": "white", "labelFont": "Liberation Sans", "labelFontSize": 22, "labelPadding": -69, "labelBaseline": "middle", "labelOverlap": false, "labelFlush": false,
    "tickColor": "#e8232a", "tickSize": 80, "tickWidth": 25, "domain": false, "grid": false, "title": null, "zindex": 1}},
  "color": {"datum": "CAD", "type": "nominal"}
 }
},
{
 "data": {"name": "ref"},
 "mark": {"type": "rule", "strokeWidth": 2, "strokeDash": [2, 1.3]},
 "encoding": {
  "y": {"field": "v", "type": "quantitative", "scale": {"domain": [-119.2922, -114.9093], "nice": false, "zero": false}, "axis": null},
  "color": {"datum": "-115.07", "type": "nominal"}
 }
},
{
 "data": {"name": "notes", "format": {"parse": {"t": "utc:'%Y-%m-%d %H:%M'"}}},
 "mark": {"type": "text", "align": "left", "baseline": "middle", "font": "Liberation Sans", "fontSize": 21, "color": "#0a80f5"},
 "encoding": {
  "x": {"field": "t", "type": "temporal", "scale": {"type": "utc", "nice": false, "domain": [1653843432000, 1653983178000]},
   "axis": {"orient": "bottom", "values": [1653901200000, 1653980400000],
    "labelExpr": "utcdate(datum.value) == 30 ? '30 May 2022' : '31'", "ticks": false, "domain": false, "grid": false,
    "labelColor": "white", "labelFont": "Liberation Sans", "labelFontSize": 22, "labelPadding": 29, "labelBaseline": "top", "labelOverlap": false, "labelFlush": false,
    "title": "Copyright© 2022 Bloomberg Finance L.P.", "titleFont": "Liberation Sans", "titleFontSize": 14.6, "titleFontWeight": "normal", "titleColor": "white", "titleAnchor": "start", "titleAlign": "left", "titleBaseline": "alphabetic", "titleX": 648, "titleY": 63, "zindex": 1}},
  "y": {"field": "v", "type": "quantitative", "scale": {"domain": [-119.2922, -114.9093], "nice": false, "zero": false}, "axis": null},
  "text": {"field": "label", "type": "nominal"}
 }
}
],
"resolve": {"scale": {"y": "independent"}, "axis": {"x": "independent", "y": "independent"}}
}
